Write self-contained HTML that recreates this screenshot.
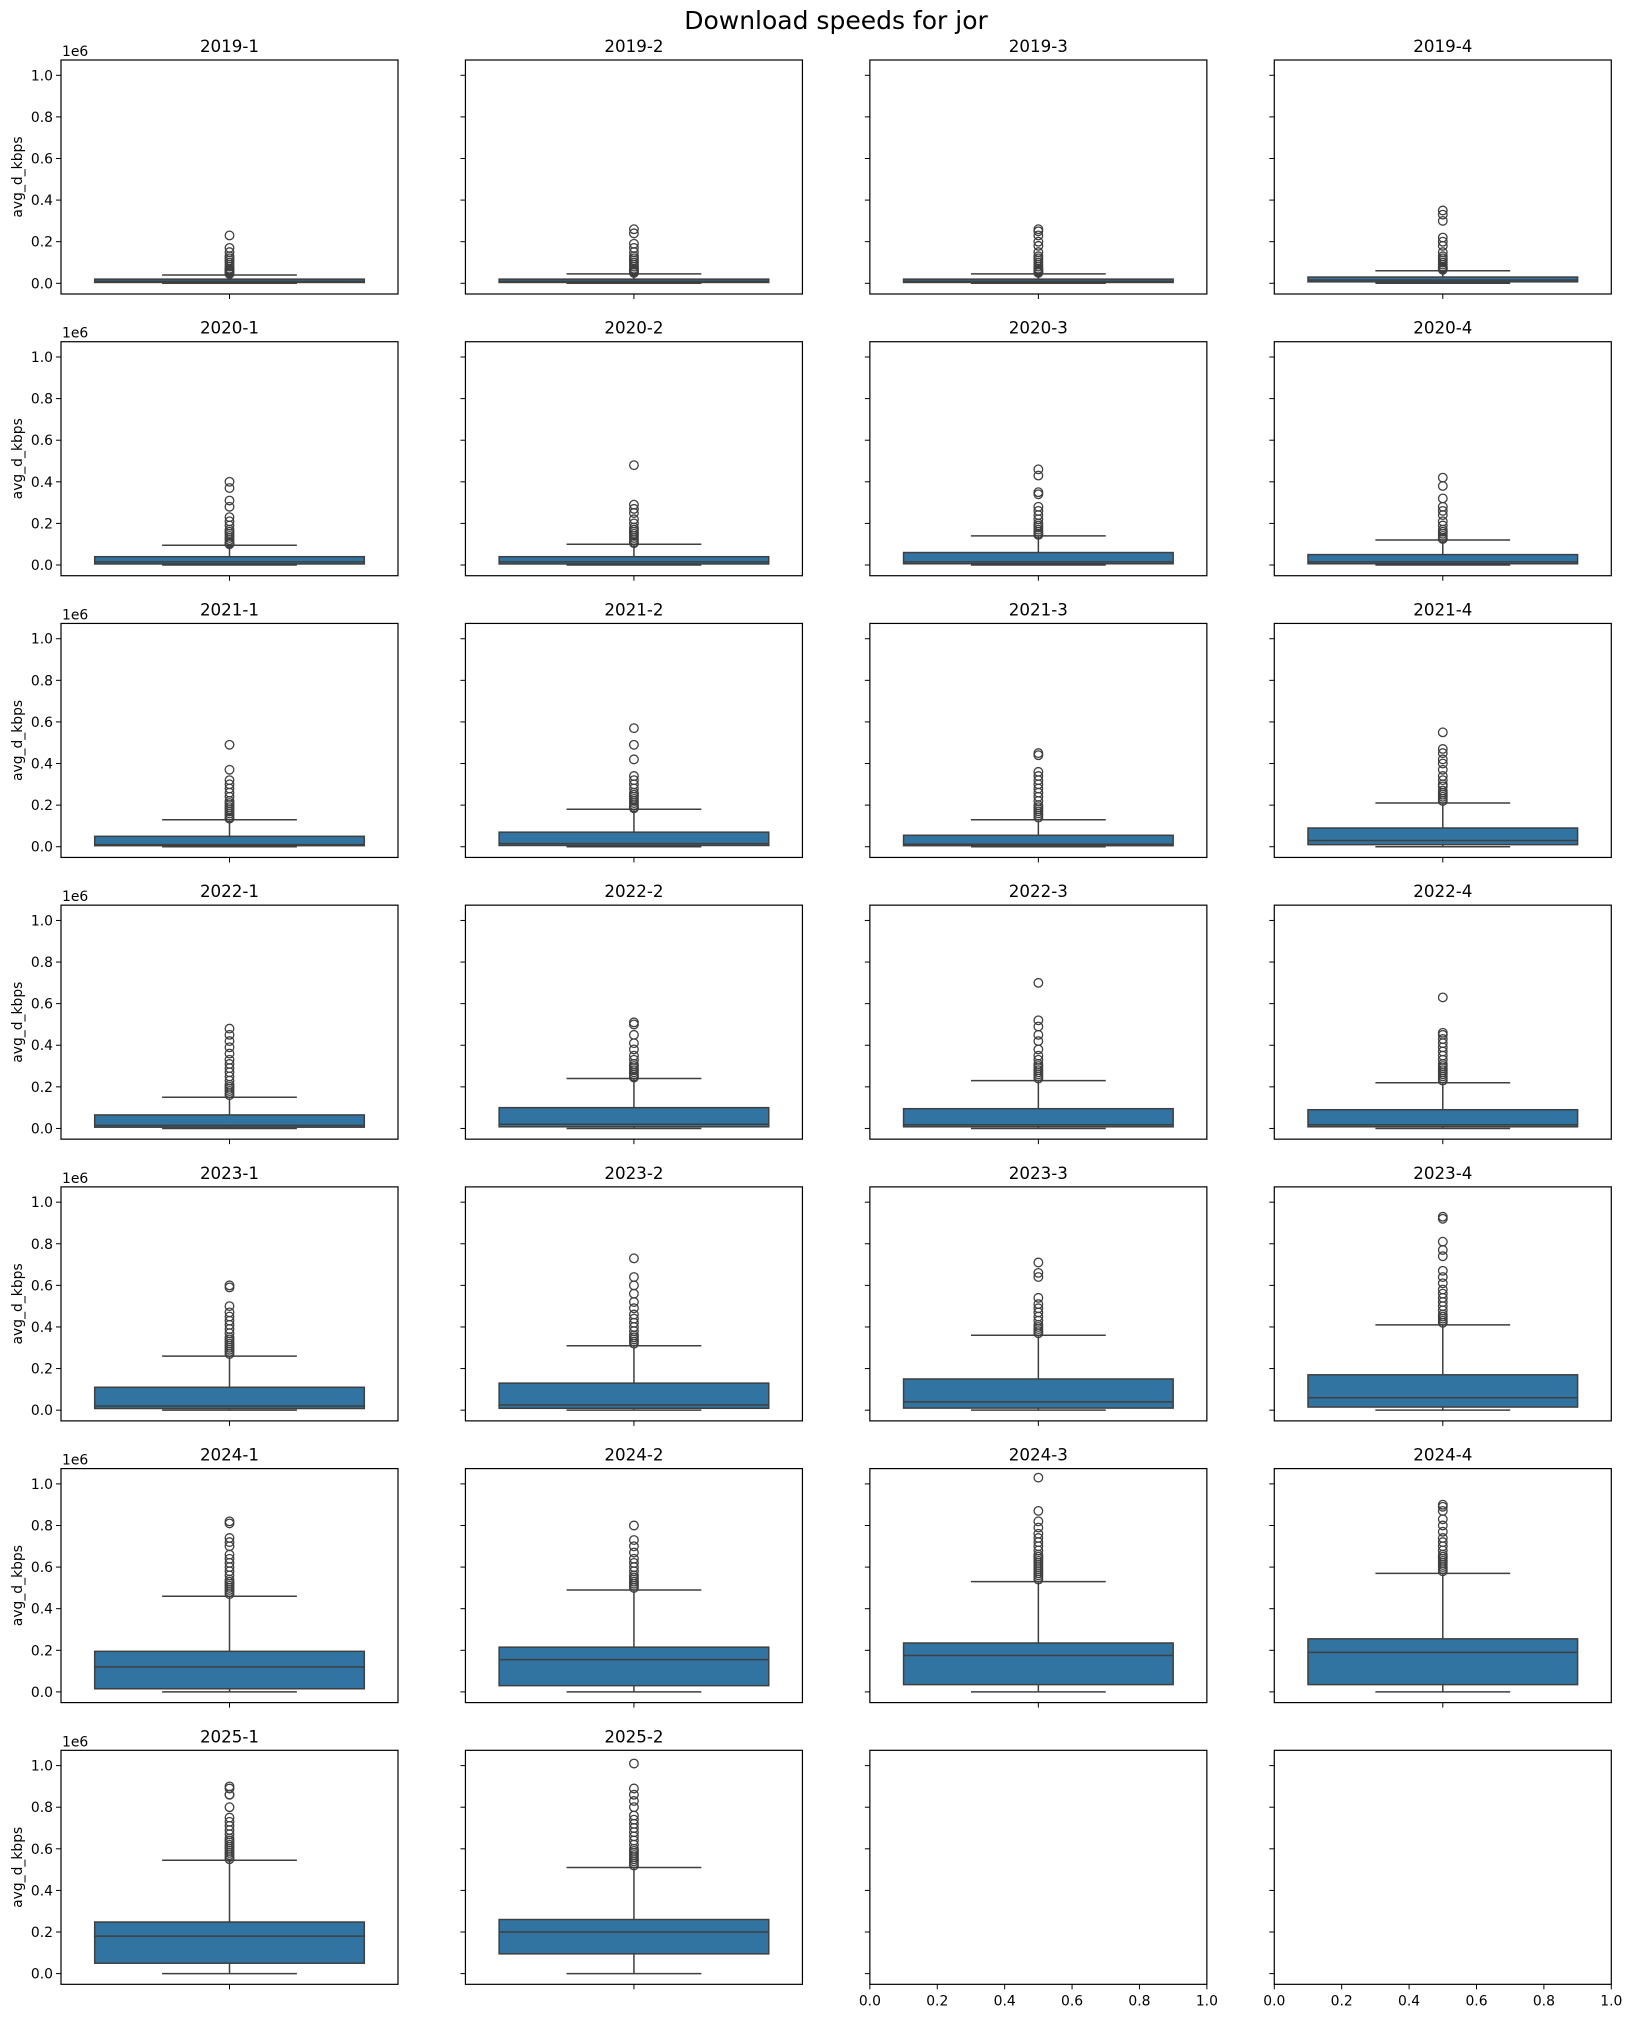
<!DOCTYPE html>
<html><head><meta charset="utf-8">
<style>
html,body{margin:0;padding:0;background:#fff;}
svg{display:block;font-family:"DejaVu Sans","Liberation Sans",sans-serif;}
</style></head>
<body>
<svg id="fig" width="1632" height="2018" viewBox="0 0 1632 2018" xmlns="http://www.w3.org/2000/svg">
<rect width="1632" height="2018" fill="#fff"/>
<text x="836" y="29" text-anchor="middle" font-size="25" fill="#000">Download speeds for jor</text>
</svg>
<script>
const labels = ["2019-1","2019-2","2019-3","2019-4","2020-1","2020-2","2020-3","2020-4","2021-1","2021-2","2021-3","2021-4","2022-1","2022-2","2022-3","2022-4","2023-1","2023-2","2023-3","2023-4","2024-1","2024-2","2024-3","2024-4","2025-1","2025-2"];
const whiskLo = [0,0,0,0,0,0,0,0,0,0,0,0,0,0,0,0,0,0,0,0,0,0,0,0,0,0];
const q1 = [0.004,0.004,0.004,0.007,0.005,0.005,0.006,0.006,0.005,0.006,0.005,0.01,0.006,0.008,0.008,0.008,0.008,0.009,0.01,0.015,0.015,0.03,0.035,0.035,0.05,0.095];
const med = [0.01,0.01,0.01,0.015,0.015,0.015,0.015,0.015,0.01,0.015,0.012,0.03,0.015,0.02,0.018,0.018,0.02,0.025,0.04,0.06,0.12,0.155,0.175,0.19,0.18,0.2];
const q3 = [0.02,0.02,0.02,0.03,0.04,0.04,0.06,0.05,0.05,0.07,0.055,0.09,0.065,0.1,0.095,0.09,0.11,0.13,0.15,0.17,0.195,0.215,0.235,0.255,0.248,0.26];
const whiskHi = [0.04,0.045,0.045,0.06,0.095,0.1,0.14,0.12,0.13,0.18,0.13,0.21,0.15,0.24,0.23,0.22,0.26,0.31,0.36,0.41,0.46,0.49,0.53,0.57,0.545,0.51];
const outliers = [
 [0.23,0.17,0.15,0.13,0.12,0.11,0.1,0.09,0.08,0.07,0.065,0.06,0.055,0.05,0.045],
 [0.26,0.24,0.19,0.17,0.15,0.13,0.12,0.11,0.1,0.09,0.08,0.07,0.065,0.06,0.055,0.05],
 [0.26,0.25,0.23,0.2,0.18,0.15,0.13,0.12,0.11,0.1,0.09,0.08,0.07,0.065,0.06,0.055,0.05],
 [0.35,0.33,0.3,0.22,0.2,0.18,0.15,0.13,0.12,0.11,0.1,0.09,0.08,0.075,0.07,0.065],
 [0.4,0.37,0.31,0.28,0.23,0.21,0.19,0.17,0.16,0.15,0.14,0.13,0.12,0.11,0.105,0.1],
 [0.48,0.29,0.27,0.25,0.22,0.2,0.18,0.17,0.16,0.15,0.14,0.13,0.12,0.11,0.105],
 [0.46,0.43,0.35,0.34,0.28,0.26,0.24,0.22,0.2,0.19,0.18,0.17,0.16,0.15,0.145],
 [0.42,0.38,0.32,0.28,0.26,0.24,0.21,0.19,0.17,0.16,0.15,0.14,0.13,0.125],
 [0.49,0.37,0.32,0.3,0.28,0.26,0.24,0.22,0.21,0.2,0.19,0.18,0.17,0.16,0.15,0.14,0.135],
 [0.57,0.49,0.42,0.34,0.32,0.3,0.28,0.26,0.25,0.24,0.23,0.22,0.21,0.2,0.19,0.185],
 [0.45,0.44,0.36,0.34,0.32,0.3,0.28,0.26,0.24,0.22,0.2,0.19,0.18,0.17,0.16,0.15,0.14],
 [0.55,0.47,0.45,0.42,0.4,0.37,0.34,0.32,0.3,0.29,0.27,0.26,0.25,0.24,0.23,0.22],
 [0.48,0.45,0.42,0.39,0.36,0.33,0.31,0.29,0.27,0.25,0.23,0.21,0.2,0.19,0.18,0.17,0.16],
 [0.51,0.5,0.45,0.41,0.38,0.35,0.33,0.31,0.3,0.29,0.28,0.27,0.26,0.25,0.245],
 [0.7,0.52,0.49,0.45,0.42,0.38,0.35,0.33,0.31,0.3,0.29,0.28,0.27,0.26,0.25,0.24],
 [0.63,0.46,0.45,0.43,0.41,0.39,0.37,0.35,0.33,0.31,0.3,0.29,0.28,0.27,0.26,0.25,0.24,0.23],
 [0.6,0.59,0.5,0.47,0.45,0.43,0.41,0.39,0.37,0.35,0.34,0.33,0.32,0.31,0.3,0.29,0.28,0.27],
 [0.73,0.64,0.6,0.56,0.52,0.49,0.46,0.44,0.42,0.4,0.38,0.36,0.35,0.34,0.33,0.32],
 [0.71,0.66,0.64,0.54,0.51,0.49,0.47,0.45,0.43,0.41,0.4,0.39,0.38,0.37],
 [0.93,0.92,0.81,0.77,0.74,0.67,0.64,0.61,0.58,0.56,0.54,0.52,0.5,0.48,0.46,0.45,0.44,0.43,0.42],
 [0.82,0.81,0.74,0.72,0.7,0.66,0.64,0.62,0.6,0.58,0.56,0.54,0.53,0.52,0.51,0.5,0.49,0.48,0.47],
 [0.8,0.73,0.7,0.67,0.64,0.62,0.6,0.58,0.56,0.55,0.54,0.53,0.52,0.51,0.5],
 [1.03,0.87,0.82,0.79,0.76,0.74,0.72,0.7,0.68,0.66,0.65,0.64,0.63,0.62,0.61,0.6,0.59,0.58,0.57,0.56,0.55,0.54],
 [0.9,0.89,0.87,0.83,0.8,0.77,0.74,0.72,0.7,0.68,0.66,0.65,0.64,0.63,0.62,0.61,0.6,0.59,0.58],
 [0.9,0.89,0.86,0.86,0.8,0.75,0.73,0.71,0.69,0.67,0.65,0.64,0.63,0.62,0.61,0.6,0.59,0.58,0.57,0.56,0.55],
 [1.01,0.89,0.86,0.83,0.8,0.76,0.74,0.72,0.7,0.68,0.66,0.64,0.62,0.6,0.59,0.58,0.57,0.56,0.55,0.54,0.53,0.52]
];
const yTicks = [0,0.2,0.4,0.6,0.8,1.0];
const yTickLabels = ["0.0","0.2","0.4","0.6","0.8","1.0"];
const xTicks = [0,0.2,0.4,0.6,0.8,1.0];
const xTickLabels = ["0.0","0.2","0.4","0.6","0.8","1.0"];

const NS="http://www.w3.org/2000/svg";
const svg=document.getElementById('fig');
const AX_W=337, AX_H=234, LEFT0=61, TOP0=60, COLSTEP=404.43, ROWSTEP=281.72;
const YMIN=-0.0515, YMAX=1.0735;
function mk(tag,attrs,parent){const e=document.createElementNS(NS,tag);for(const k in attrs)e.setAttribute(k,attrs[k]);(parent||svg).appendChild(e);return e;}
function yScale(top,v){return top+AX_H-(v-YMIN)/(YMAX-YMIN)*AX_H;}

for(let i=0;i<28;i++){
  const r=Math.floor(i/4), c=i%4;
  const left=LEFT0+c*COLSTEP, top=TOP0+r*ROWSTEP;
  const g=mk('g',{});
  
  
  const y=v=>yScale(top,v);
  yTicks.forEach((t,k)=>{
    mk('line',{x1:left-5,x2:left,y1:y(t),y2:y(t),stroke:'#000','stroke-width':1},g);
    if(c===0){
      const tl=mk('text',{x:left-8,y:y(t)+5,'text-anchor':'end','font-size':13.9,fill:'#000'},g);
      tl.textContent=yTickLabels[k];
    }
  });
  if(c===0 && i<labels.length){
    const e=mk('text',{x:left+1,y:top-4,'font-size':13.9,fill:'#000'},g);
    
    
    e.textContent='1e6';
    const yl=mk('text',{x:0,y:0,'text-anchor':'middle','font-size':13.9,fill:'#000',transform:`translate(${22},${top+AX_H/2}) rotate(-90)`},g);
    
    
    yl.textContent='avg_d_kbps';
  }
  if(i<labels.length){
    const tt=mk('text',{x:left+AX_W/2,y:top-8,'text-anchor':'middle','font-size':16.7,fill:'#000'},g);
    
    
    tt.textContent=labels[i];
    const cx=left+AX_W/2, bw=AX_W*0.8, cw=bw/2;
    mk('line',{x1:cx,x2:cx,y1:y(q3[i]),y2:y(whiskHi[i]),stroke:'#3f3f3f','stroke-width':1.5},g);
    mk('line',{x1:cx,x2:cx,y1:y(q1[i]),y2:y(whiskLo[i]),stroke:'#3f3f3f','stroke-width':1.5},g);
    mk('line',{x1:cx-cw/2,x2:cx+cw/2,y1:y(whiskHi[i]),y2:y(whiskHi[i]),stroke:'#3f3f3f','stroke-width':1.5},g);
    mk('line',{x1:cx-cw/2,x2:cx+cw/2,y1:y(whiskLo[i]),y2:y(whiskLo[i]),stroke:'#3f3f3f','stroke-width':1.5},g);
    const b=mk('rect',{x:cx-bw/2,y:y(q3[i]),width:bw,height:Math.max(1,y(q1[i])-y(q3[i])),fill:'#3274a1',stroke:'#3f3f3f','stroke-width':1.5},g);
    
    
    mk('line',{x1:cx-bw/2,x2:cx+bw/2,y1:y(med[i]),y2:y(med[i]),stroke:'#3f3f3f','stroke-width':1.5},g);
    outliers[i].forEach(v=>{
      const o=mk('circle',{cx:cx,cy:y(v),r:4.3,fill:'none',stroke:'#3f3f3f','stroke-width':1.3},g);
      
      
    });
    mk('line',{x1:cx,x2:cx,y1:top+AX_H,y2:top+AX_H+5,stroke:'#000','stroke-width':1},g);
  } else {
    xTicks.forEach((t,k)=>{
      const xx=left+t*AX_W;
      mk('line',{x1:xx,x2:xx,y1:top+AX_H,y2:top+AX_H+5,stroke:'#000','stroke-width':1},g);
      const tl=mk('text',{x:xx,y:top+AX_H+21,'text-anchor':'middle','font-size':13.9,fill:'#000'},g);
      tl.textContent=xTickLabels[k];
    });
  }
  const fr=mk('rect',{x:left,y:top,width:AX_W,height:AX_H,fill:'none',stroke:'#000','stroke-width':1.2},g);
  
  
}
</script>
</body></html>
